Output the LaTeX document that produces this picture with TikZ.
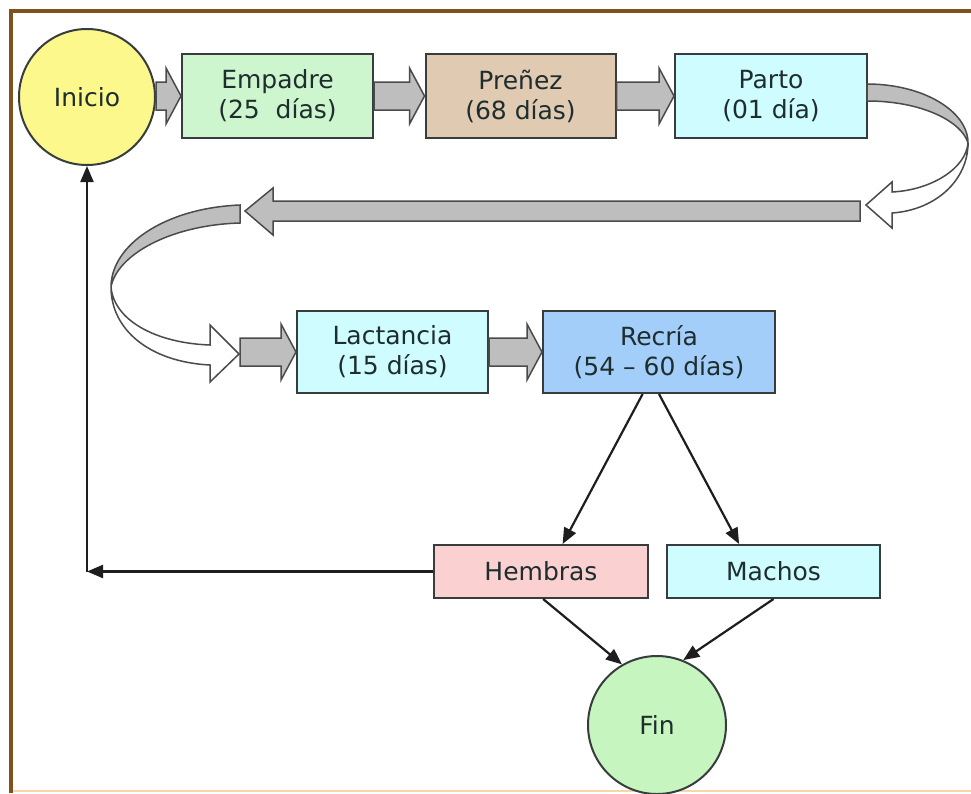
\documentclass[tikz,border=0pt]{standalone}
\usepackage{fontspec}
\setmainfont{DejaVu Sans}
\usetikzlibrary{arrows.meta,calc}
\definecolor{frame}{RGB}{125,82,30}
\definecolor{framebot}{RGB}{245,215,170}
\definecolor{boxline}{RGB}{55,60,60}
\definecolor{txt}{RGB}{30,45,45}
\definecolor{cinicio}{RGB}{253,248,140}
\definecolor{cempadre}{RGB}{206,246,206}
\definecolor{cprenez}{RGB}{224,202,178}
\definecolor{ccyan}{RGB}{206,252,255}
\definecolor{crecria}{RGB}{164,206,250}
\definecolor{chembras}{RGB}{250,208,208}
\definecolor{cfin}{RGB}{198,245,192}
\definecolor{arrgray}{RGB}{190,190,190}
\definecolor{arrline}{RGB}{75,75,75}
\definecolor{linek}{RGB}{30,30,30}
\newcommand{\myblockarrow}[2]{%
  \filldraw[blk] let \p1=(#1), \p2=(#2) in
    (\x1,\y2+14pt) -- (\x2-15pt,\y2+14pt) -- (\x2-15pt,\y2+28pt) -- (\x2,\y2)
    -- (\x2-15pt,\y2-28pt) -- (\x2-15pt,\y2-14pt) -- (\x1,\y2-14pt) -- cycle;}
\begin{document}
\begin{tikzpicture}[x=1pt,y=-1pt,
  lbl/.style={font=\fontsize{25}{30}\selectfont, text=txt, align=center},
  box/.style={lbl, draw=boxline, line width=2pt, rectangle, inner sep=0pt},
  circ/.style={lbl, draw=boxline, line width=2pt, circle, inner sep=0pt},
  blk/.style={fill=arrgray, draw=arrline, line width=1.5pt, line join=miter},
  hollow/.style={fill=white, draw=arrline, line width=1.5pt, line join=miter},
  thinarrow/.style={draw=linek, line width=2.2pt, -{Triangle[length=16pt,width=13pt]}}]
\useasboundingbox (0,0) rectangle (971,793);
\fill[white] (0,0) rectangle (971,793);
% frame
\draw[framebot, line width=2pt] (11,791) -- (971,791);
\draw[frame, line width=3.5pt] (11,793) -- (11,11) -- (971,11);

% nodes
\node[circ, fill=cinicio, minimum size=136pt] (ini) at (87,97) {Inicio};
\node[box, fill=cempadre, minimum width=191pt, minimum height=84pt] (emp) at (277.5,96) {Empadre\\(25~ días)};
\node[box, fill=cprenez, minimum width=190pt, minimum height=84pt] (pre) at (520.5,96) {Preñez\\(68 días)};
\node[box, fill=ccyan, minimum width=192pt, minimum height=84pt] (par) at (771,96) {Parto\\(01 día)};
\node[box, fill=ccyan, minimum width=191pt, minimum height=82pt] (lac) at (392.5,352) {Lactancia\\(15 días)};
\node[box, fill=crecria, minimum width=232pt, minimum height=82pt] (rec) at (659,352) {Recría\\(54 – 60 días)};
\node[box, fill=chembras, minimum width=214pt, minimum height=53pt] (hem) at (541,571.5) {Hembras};
\node[box, fill=ccyan, minimum width=213pt, minimum height=53pt] (mac) at (773.5,571.5) {Machos};
\node[circ, fill=cfin, minimum size=138pt] (fin) at (657,725) {Fin};

% block arrows along the top row
\myblockarrow{ini.east}{emp.west}
\myblockarrow{emp.east}{pre.west}
\myblockarrow{pre.east}{par.west}

% right curved arrow (Parto -> long arrow)
\filldraw[blk] (867,84) .. controls (923,84) and (968,111) .. (968,143)
  .. controls (962,122) and (923,101) .. (867,101) -- cycle;
\filldraw[hollow] (968,143) .. controls (968,180) and (936,210) .. (892,213)
  -- (892,228) -- (866,205) -- (892,182) -- (892,192)
  .. controls (932,190) and (966,168) .. (968,143) -- cycle;

% long leftward arrow
\coordinate (lr) at (860,211);
\coordinate (ll) at (245,211);
\filldraw[blk] let \p1=(lr), \p2=(ll) in
  (\x1,\y1+10pt) -- (\x2+28pt,\y1+10pt) -- (\x2+28pt,\y1+23pt) -- (\x2,\y2)
  -- (\x2+28pt,\y1-24pt) -- (\x2+28pt,\y1-10pt) -- (\x1,\y1-10pt) -- cycle;

% left curved arrow
\filldraw[blk] (240,205) .. controls (165,208) and (111,245) .. (111,287)
  .. controls (117,255) and (170,225) .. (240,223) -- cycle;
\filldraw[hollow] (111,287) .. controls (111,330) and (150,362) .. (210,365)
  -- (210,382) -- (239,354) -- (210,325) -- (210,345)
  .. controls (155,343) and (114,320) .. (111,287) -- cycle;

% block arrows on the second row
\coordinate (lcs) at (240,353);
\myblockarrow{lcs}{lac.west}
\myblockarrow{lac.east}{rec.west}

% thin arrows
\draw[thinarrow] ($(rec.south west)!0.43!(rec.south east)$) -- ($(hem.north west)!0.6!(hem.north east)$);
\draw[thinarrow] ($(rec.south west)!0.5!(rec.south east)$) -- ($(mac.north west)!0.34!(mac.north east)$);
\draw[thinarrow] ($(hem.south west)!0.51!(hem.south east)$) -- (fin.120);
\draw[thinarrow] ($(mac.south west)!0.5!(mac.south east)$) -- (fin.68);
\coordinate (corner) at (87,571.5);
\draw[thinarrow] (hem.west) -- (corner);
\draw[thinarrow] (corner) -- (ini.south);
\end{tikzpicture}
\end{document}
